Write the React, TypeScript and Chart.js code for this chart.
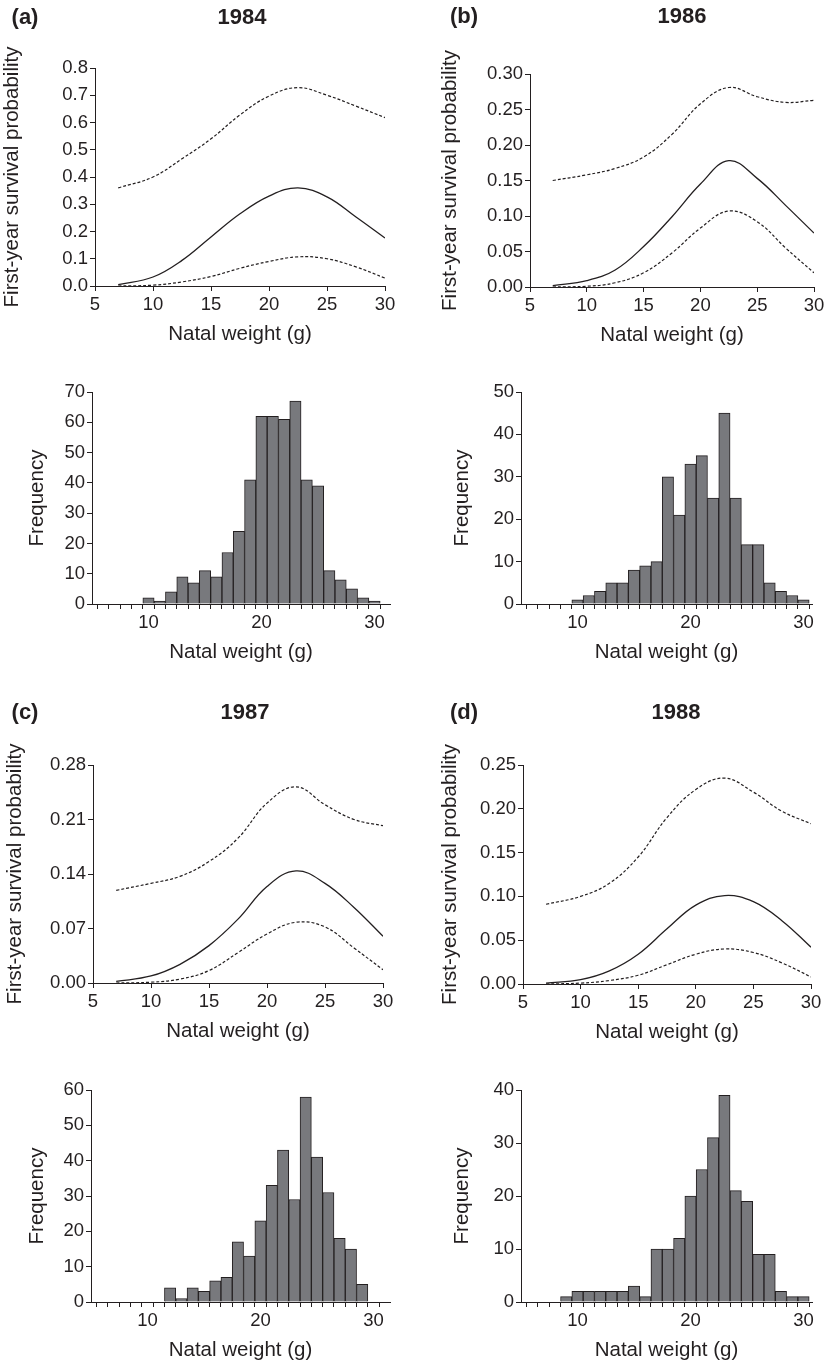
import React, { useEffect, useRef } from 'react';
import { Chart, registerables } from 'chart.js';

Chart.register(...registerables);

const FONT = "'Liberation Sans', Arial, Helvetica, sans-serif";
const INK = '#231f20';
const BAR_FILL = '#78797d';

// ---- survival curves (x = natal weight, g) ----
const curveWeights = [7, 10, 12.5, 15, 17.5, 20, 22.5, 25, 27.5, 30];

const upper1984 = [0.36, 0.40, 0.467, 0.54, 0.628, 0.697, 0.728, 0.70, 0.66, 0.618];
const mean1984 = [0.005, 0.033, 0.094, 0.18, 0.265, 0.33, 0.36, 0.327, 0.253, 0.176];
const lower1984 = [0.0, 0.003, 0.015, 0.035, 0.065, 0.09, 0.107, 0.10, 0.07, 0.029];

const upper1986 = [0.15, 0.158, 0.167, 0.183, 0.215, 0.258, 0.281, 0.268, 0.26, 0.263];
const mean1986 = [0.002, 0.009, 0.024, 0.057, 0.099, 0.145, 0.178, 0.153, 0.115, 0.076];
const lower1986 = [0.0, 0.001, 0.006, 0.02, 0.048, 0.083, 0.107, 0.092, 0.055, 0.02];

const upper1987 = [0.119, 0.128, 0.137, 0.156, 0.186, 0.231, 0.252, 0.229, 0.21, 0.202];
const mean1987 = [0.002, 0.009, 0.024, 0.048, 0.082, 0.124, 0.144, 0.128, 0.097, 0.06];
const lower1987 = [0.0, 0.001, 0.005, 0.016, 0.039, 0.063, 0.078, 0.072, 0.045, 0.017];

const upper1988 = [0.091, 0.1, 0.115, 0.145, 0.19, 0.222, 0.235, 0.219, 0.197, 0.183];
const mean1988 = [0.001, 0.005, 0.015, 0.034, 0.063, 0.09, 0.101, 0.094, 0.072, 0.042];
const lower1988 = [0.0, 0.001, 0.004, 0.01, 0.022, 0.034, 0.04, 0.036, 0.024, 0.008];

const lineXTicks = [5, 10, 15, 20, 25, 30];
const yTicks1984 = [0, 0.1, 0.2, 0.3, 0.4, 0.5, 0.6, 0.7, 0.8];
const yTicks1986 = [0, 0.05, 0.1, 0.15, 0.2, 0.25, 0.3];
const yTicks1987 = [0, 0.07, 0.14, 0.21, 0.28];
const yTicks1988 = [0, 0.05, 0.1, 0.15, 0.2, 0.25];

// ---- natal weight histograms (bins centred on whole grams) ----
const histBins = [6, 7, 8, 9, 10, 11, 12, 13, 14, 15, 16, 17, 18, 19, 20, 21, 22, 23, 24, 25, 26, 27, 28, 29, 30];
const freq1984 = [0, 0, 0, 0, 2, 1, 4, 9, 7, 11, 9, 17, 24, 41, 62, 62, 61, 67, 41, 39, 11, 8, 5, 2, 1];
const freq1986 = [0, 0, 0, 0, 1, 2, 3, 5, 5, 8, 9, 10, 30, 21, 33, 35, 25, 45, 25, 14, 14, 5, 3, 2, 1];
const freq1987 = [0, 0, 0, 0, 0, 0, 4, 1, 4, 3, 6, 7, 17, 13, 23, 33, 43, 29, 58, 41, 31, 18, 15, 5, 0];
const freq1988 = [0, 0, 0, 1, 2, 2, 2, 2, 2, 3, 1, 10, 10, 12, 20, 25, 31, 39, 21, 19, 9, 9, 2, 1, 1];
const histLabelTicks = [10, 20, 30];
const freqTicks1984 = [0, 10, 20, 30, 40, 50, 60, 70];
const freqTicks1986 = [0, 10, 20, 30, 40, 50];
const freqTicks1987 = [0, 10, 20, 30, 40, 50, 60];
const freqTicks1988 = [0, 10, 20, 30, 40];

const panelLetters = ['(a)', '(b)', '(c)', '(d)'];
const panelYears = ['1984', '1986', '1987', '1988'];
const xTitle = 'Natal weight (g)';
const survivalTitle = 'First-year survival probability';
const freqTitle = 'Frequency';

const pts = (xs: number[], ys: number[]) => xs.map((x, i) => ({ x, y: ys[i] }));

const panelTextPlugin = {
  id: 'panelText',
  afterDraw(chart: any, _args: any, opts: any) {
    const ctx = chart.ctx;
    (opts.items || []).forEach((it: any) => {
      ctx.save();
      ctx.font = it.font;
      ctx.fillStyle = INK;
      ctx.textAlign = 'center';
      ctx.textBaseline = 'middle';
      ctx.fillText(it.text, it.x, it.y);
      ctx.restore();
    });
  },
};

const tickFont = { family: FONT, size: 18.5 };
const titleFont = { family: FONT, size: 20.5 };
const headFont = `bold 22px ${FONT}`;

function axisBase() {
  return {
    grid: { display: true, drawOnChartArea: false, drawTicks: true, tickLength: 5, color: INK, lineWidth: 1 },
    border: { display: true, color: INK, width: 1 },
  };
}

function lineConfig(s: any) {
  const ds = (data: number[], dashed: boolean) => ({
    data: pts(curveWeights, data),
    borderColor: INK,
    borderWidth: dashed ? 1.2 : 1.3,
    borderDash: dashed ? [3, 2] : [],
    pointRadius: 0,
    tension: 0.4,
    fill: false,
  });
  return {
    type: 'line',
    data: { datasets: [ds(s.upper, true), ds(s.mean, false), ds(s.lower, true)] },
    options: {
      animation: false,
      responsive: false,
      layout: { padding: { left: 0, top: s.padTop, right: s.padRight, bottom: 0 } },
      plugins: {
        legend: { display: false },
        tooltip: { enabled: false },
        panelText: {
          items: [
            { text: s.letter, x: s.letterX, y: s.headY, font: headFont },
            { text: s.year, x: s.yearX, y: s.headY, font: headFont },
          ],
        },
      },
      scales: {
        x: {
          type: 'linear',
          min: 5,
          max: 30,
          ...axisBase(),
          afterBuildTicks: (sc: any) => { sc.ticks = lineXTicks.map((v) => ({ value: v })); },
          afterFit: (sc: any) => { sc.height = 65; },
          ticks: { font: tickFont, color: INK, padding: 3, maxRotation: 0, autoSkip: false, callback: (v: any) => String(v) },
          title: { display: true, text: xTitle, font: titleFont, color: INK, padding: { top: 4, bottom: 4 } },
        },
        y: {
          type: 'linear',
          min: 0,
          max: s.yMax,
          ...axisBase(),
          afterBuildTicks: (sc: any) => { sc.ticks = s.yTicks.map((v: number) => ({ value: v })); },
          afterFit: (sc: any) => { sc.width = s.yWidth; },
          ticks: { font: tickFont, color: INK, padding: 2, autoSkip: false, callback: (v: any) => Number(v).toFixed(s.dec) },
          title: { display: true, text: survivalTitle, font: titleFont, color: INK, padding: { top: s.titlePad, bottom: 0 } },
        },
      },
    },
    plugins: [panelTextPlugin],
  };
}

function histConfig(s: any) {
  return {
    type: 'bar',
    data: {
      datasets: [
        {
          data: pts(histBins, s.freq),
          backgroundColor: BAR_FILL,
          borderColor: INK,
          borderWidth: 1,
          barPercentage: 1,
          categoryPercentage: 1,
        },
      ],
    },
    options: {
      animation: false,
      responsive: false,
      layout: { padding: { left: 0, top: s.padTop, right: s.padRight, bottom: 0 } },
      plugins: { legend: { display: false }, tooltip: { enabled: false } },
      scales: {
        x: {
          type: 'linear',
          min: 5,
          max: s.xMax,
          offset: false,
          ...axisBase(),
          afterBuildTicks: (sc: any) => { sc.ticks = histBins.map((v) => ({ value: v })); },
          afterFit: (sc: any) => { sc.height = 65; },
          ticks: {
            font: tickFont,
            color: INK,
            padding: 3,
            maxRotation: 0,
            autoSkip: false,
            callback: (v: any) => (histLabelTicks.includes(Number(v)) ? String(v) : ''),
          },
          title: { display: true, text: xTitle, font: titleFont, color: INK, padding: { top: 4, bottom: 4 } },
        },
        y: {
          type: 'linear',
          min: 0,
          max: s.yMax,
          ...axisBase(),
          afterBuildTicks: (sc: any) => { sc.ticks = s.yTicks.map((v: number) => ({ value: v })); },
          afterFit: (sc: any) => { sc.width = s.yWidth; },
          ticks: { font: tickFont, color: INK, padding: 2, autoSkip: false, callback: (v: any) => String(v) },
          title: { display: true, text: freqTitle, font: titleFont, color: INK, padding: { top: s.titlePad, bottom: 0 } },
        },
      },
    },
  };
}

const lineSpecs = [
  { box: [0, 0, 417, 351], yWidth: 95, padTop: 68, padRight: 32, yMax: 0.8, yTicks: yTicks1984, dec: 1, titlePad: 0,
    upper: upper1984, mean: mean1984, lower: lower1984, letter: panelLetters[0], year: panelYears[0], letterX: 25, yearX: 242, headY: 18 },
  { box: [417, 0, 417, 352], yWidth: 113, padTop: 74, padRight: 20, yMax: 0.3, yTicks: yTicks1986, dec: 2, titlePad: 21,
    upper: upper1986, mean: mean1986, lower: lower1986, letter: panelLetters[1], year: panelYears[1], letterX: 47, yearX: 265, headY: 17 },
  { box: [0, 670, 417, 378], yWidth: 93, padTop: 95, padRight: 34, yMax: 0.28, yTicks: yTicks1987, dec: 2, titlePad: 3,
    upper: upper1987, mean: mean1987, lower: lower1987, letter: panelLetters[2], year: panelYears[2], letterX: 25, yearX: 245, headY: 43 },
  { box: [417, 670, 417, 379], yWidth: 106, padTop: 95, padRight: 23, yMax: 0.25, yTicks: yTicks1988, dec: 2, titlePad: 21,
    upper: upper1988, mean: mean1988, lower: lower1988, letter: panelLetters[3], year: panelYears[3], letterX: 47, yearX: 259, headY: 43 },
];

const histSpecs = [
  { box: [0, 340, 417, 329], yWidth: 92, padTop: 52, padRight: 27, xMax: 31.37, yMax: 70, yTicks: freqTicks1984, freq: freq1984, titlePad: 25 },
  { box: [417, 340, 417, 329], yWidth: 104, padTop: 52, padRight: 22, xMax: 30.75, yMax: 50, yTicks: freqTicks1986, freq: freq1986, titlePad: 33 },
  { box: [0, 1040, 417, 327], yWidth: 91, padTop: 50, padRight: 27, xMax: 31.46, yMax: 60, yTicks: freqTicks1987, freq: freq1987, titlePad: 25 },
  { box: [417, 1040, 417, 327], yWidth: 104, padTop: 50, padRight: 22, xMax: 30.75, yMax: 40, yTicks: freqTicks1988, freq: freq1988, titlePad: 33 },
];

function ChartCanvas({ box, config }: { box: number[]; config: any }) {
  const ref = useRef<HTMLCanvasElement | null>(null);
  useEffect(() => {
    if (!ref.current) return;
    const chart = new Chart(ref.current, config);
    return () => chart.destroy();
  }, []);
  const [left, top, width, height] = box;
  return (
    <canvas
      ref={ref}
      width={width}
      height={height}
      style={{ position: 'absolute', left, top, width, height, display: 'block' }}
    />
  );
}

export default function App() {
  return (
    <div style={{ position: 'absolute', left: 0, top: 0, width: 834, height: 1367, background: '#ffffff', overflow: 'hidden' }}>
      {lineSpecs.map((s, i) => (
        <ChartCanvas key={'l' + i} box={s.box} config={lineConfig(s)} />
      ))}
      {histSpecs.map((s, i) => (
        <ChartCanvas key={'h' + i} box={s.box} config={histConfig(s)} />
      ))}
    </div>
  );
}
